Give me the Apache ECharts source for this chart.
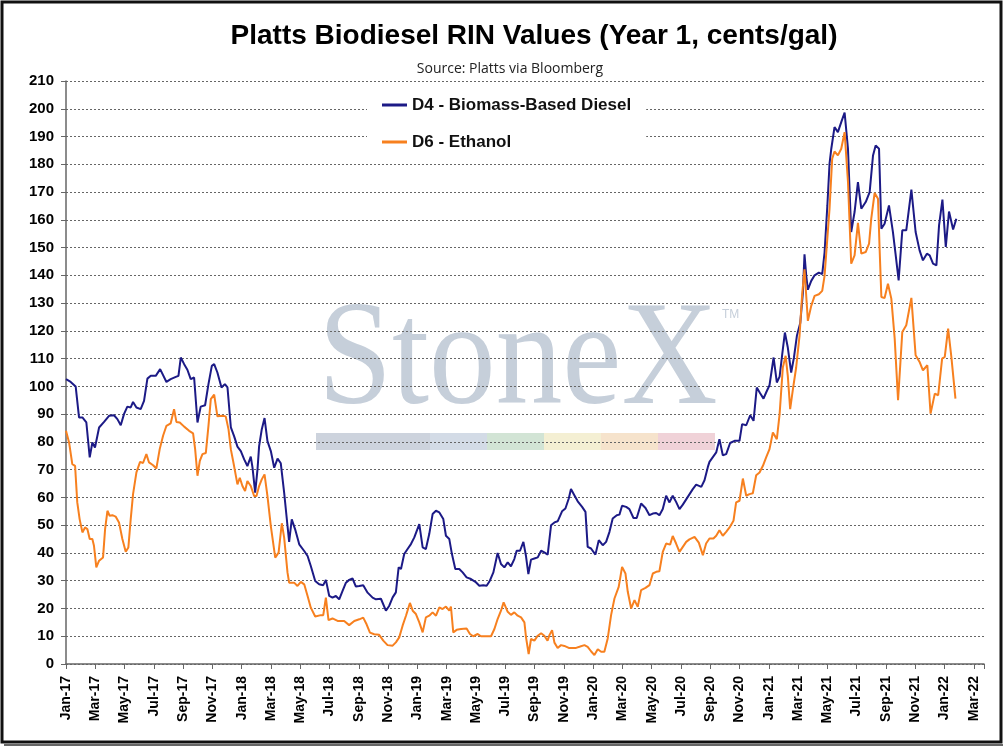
<!DOCTYPE html>
<html>
<head>
<meta charset="utf-8">
<title>Platts Biodiesel RIN Values</title>
<script src="https://cdn.jsdelivr.net/npm/echarts@6/dist/echarts.min.js"></script>
<style>
html, body { margin: 0; padding: 0; background: #fff; }
#chart { width: 1005px; height: 748px; }
</style>
</head>
<body>
<div id="chart"></div>
<script>
// x = months since Jan-2017 (fractional), y = cents/gal
const monthTicks = [
    'Jan-17', 'Mar-17', 'May-17', 'Jul-17', 'Sep-17', 'Nov-17',
    'Jan-18', 'Mar-18', 'May-18', 'Jul-18', 'Sep-18', 'Nov-18',
    'Jan-19', 'Mar-19', 'May-19', 'Jul-19', 'Sep-19', 'Nov-19',
    'Jan-20', 'Mar-20', 'May-20', 'Jul-20', 'Sep-20', 'Nov-20',
    'Jan-21', 'Mar-21', 'May-21', 'Jul-21', 'Sep-21', 'Nov-21',
    'Jan-22', 'Mar-22'
]

const seriesNames = ['D4 - Biomass-Based Diesel', 'D6 - Ethanol']

const d4Points = [
    [0.00, 102.6], [0.32, 101.6], [0.66, 100.0], [0.89, 88.8], [1.12, 88.8], [1.39, 87.0], [1.62, 74.4], [1.80, 79.8],
    [1.98, 78.0], [2.26, 85.2], [2.60, 87.2], [2.94, 89.4], [3.28, 89.6], [3.51, 88.2], [3.74, 86.0], [3.96, 90.0],
    [4.19, 92.7], [4.42, 92.4], [4.58, 94.4], [4.81, 92.4], [5.10, 91.8], [5.33, 94.8], [5.56, 102.8], [5.79, 103.8],
    [6.13, 103.8], [6.43, 106.2], [6.86, 101.6], [7.15, 102.6], [7.50, 103.4], [7.68, 103.8], [7.84, 110.4], [8.07, 108.0],
    [8.29, 106.0], [8.52, 102.6], [8.75, 103.2], [8.98, 87.0], [9.20, 92.7], [9.50, 93.2], [9.73, 100.8], [9.96, 107.4],
    [10.12, 108.0], [10.34, 105.0], [10.62, 99.6], [10.85, 100.8], [11.03, 99.6],
    [11.26, 85.2], [11.48, 82.1], [11.71, 78.3], [11.94, 76.7], [12.17, 73.7], [12.39, 71.3], [12.62, 74.7], [12.74, 70.7],
    [12.92, 61.7], [13.08, 70.1], [13.19, 78.5], [13.37, 84.5], [13.56, 88.6], [13.76, 80.3], [13.99, 76.7], [14.22, 70.7],
    [14.45, 74.0], [14.67, 72.3], [14.90, 61.7], [15.13, 49.7], [15.24, 44.0], [15.42, 52.1], [15.65, 48.5], [15.93, 43.1],
    [16.27, 40.7], [16.50, 38.9], [16.72, 35.3], [17.02, 29.9], [17.29, 28.7], [17.57, 28.4], [17.75, 30.3], [17.98, 24.5],
    [18.20, 23.9], [18.43, 24.5], [18.66, 23.3], [18.89, 26.3], [19.12, 29.3], [19.34, 30.3], [19.57, 30.8], [19.80, 27.9],
    [20.03, 28.1], [20.30, 28.4], [20.60, 25.7], [20.94, 23.9], [21.17, 23.3], [21.51, 23.5],
    [21.85, 19.2], [22.08, 21.0], [22.31, 24.0], [22.53, 25.8], [22.72, 34.8], [22.88, 34.2], [23.10, 39.6], [23.33, 41.4],
    [23.56, 43.2], [23.79, 45.6], [24.13, 50.4], [24.36, 42.0], [24.58, 41.4], [24.81, 46.8], [25.04, 54.0], [25.27, 55.2],
    [25.50, 54.6], [25.77, 52.2], [25.95, 46.2], [26.18, 45.0], [26.36, 39.6], [26.59, 34.2], [26.86, 34.2], [27.09, 33.0],
    [27.36, 31.2], [27.66, 30.6], [27.96, 29.6], [28.23, 28.2], [28.50, 28.4], [28.73, 28.2], [28.95, 30.0], [29.19, 33.0],
    [29.48, 40.0], [29.71, 36.0], [29.94, 34.8], [30.17, 36.6], [30.39, 35.2], [30.62, 37.8], [30.78, 40.8], [31.01, 40.8],
    [31.24, 44.0], [31.42, 38.8], [31.58, 32.4], [31.76, 37.6], [31.99, 38.0], [32.22, 38.4], [32.45, 40.8], [32.67, 40.2],
    [32.90, 39.4],
    [33.13, 50.0], [33.36, 51.0], [33.58, 51.4], [33.88, 55.0], [34.11, 56.0], [34.34, 59.6], [34.49, 63.0], [34.72, 60.8],
    [34.95, 58.6], [35.25, 56.6], [35.48, 54.8], [35.63, 42.2], [35.86, 41.6], [36.16, 39.4], [36.39, 44.6], [36.66, 42.8],
    [36.89, 44.0], [37.12, 47.6], [37.34, 52.4], [37.62, 53.6], [37.80, 53.8], [37.98, 57.0], [38.26, 56.6], [38.48, 55.8],
    [38.76, 52.6], [38.98, 52.6], [39.28, 57.8], [39.58, 56.2], [39.85, 53.6], [40.08, 54.2], [40.31, 54.4], [40.53, 53.6],
    [40.76, 55.8], [40.99, 60.6], [41.22, 58.2], [41.44, 60.6], [41.67, 58.4], [41.90, 55.8], [42.13, 57.4], [42.47, 60.2],
    [42.81, 63.0], [43.04, 64.6], [43.39, 63.8], [43.61, 66.2], [43.84, 71.0], [43.95, 72.8],
    [44.07, 72.6], [44.41, 76.2], [44.63, 81.0], [44.86, 75.2], [45.09, 75.6], [45.36, 79.6], [45.66, 80.4], [46.00, 80.4],
    [46.18, 86.4], [46.46, 86.0], [46.73, 89.6], [46.96, 87.6], [47.18, 99.6], [47.41, 97.5], [47.64, 95.6], [47.82, 97.8],
    [48.05, 100.4], [48.33, 110.4], [48.55, 101.4], [48.74, 103.5], [48.92, 111.6], [49.10, 119.4], [49.30, 114.0], [49.53, 105.0],
    [49.72, 110.4], [49.92, 118.2], [50.15, 122.8], [50.33, 133.8], [50.44, 147.6], [50.56, 139.8], [50.67, 134.8], [50.90, 138.0],
    [51.13, 140.0], [51.42, 141.0], [51.65, 140.4], [51.81, 148.2], [52.00, 165.0],
    [52.15, 180.2], [52.27, 185.6], [52.49, 193.4], [52.72, 191.6], [52.95, 195.2], [53.18, 198.6], [53.41, 185.6], [53.63, 155.6],
    [53.86, 162.8], [54.09, 173.6], [54.32, 164.0], [54.62, 166.4], [54.89, 170.0], [55.12, 183.2], [55.30, 186.8], [55.53, 185.6],
    [55.69, 156.8], [55.91, 158.6], [56.21, 165.2], [56.48, 155.6], [56.67, 147.2], [56.87, 138.2], [57.12, 156.2], [57.39, 156.2],
    [57.74, 170.9], [58.03, 155.6], [58.30, 149.0], [58.53, 145.4], [58.80, 147.8], [58.99, 147.2], [59.22, 144.2], [59.45, 143.6],
    [59.63, 158.0], [59.86, 167.3], [60.09, 150.2], [60.31, 163.0], [60.59, 156.5], [60.81, 160.4]
]

const d6Points = [
    [0.00, 84.0], [0.21, 79.8], [0.43, 72.0], [0.62, 71.4], [0.77, 58.2], [0.93, 52.2], [1.12, 47.4], [1.30, 49.2],
    [1.46, 48.6], [1.62, 45.0], [1.80, 45.0], [1.91, 42.6], [2.07, 34.8], [2.26, 37.2], [2.53, 38.4], [2.67, 48.6],
    [2.83, 55.2], [2.98, 53.4], [3.17, 53.6], [3.39, 53.1], [3.62, 51.0], [3.85, 45.0], [4.08, 40.4], [4.26, 42.0],
    [4.42, 52.2], [4.58, 61.2], [4.81, 69.0], [5.06, 72.8], [5.26, 72.4], [5.49, 75.6], [5.67, 72.6], [5.95, 71.6],
    [6.17, 70.4], [6.40, 77.4], [6.63, 82.2], [6.86, 85.8], [7.15, 86.7], [7.38, 91.8], [7.54, 87.2], [7.77, 87.0],
    [8.07, 85.5], [8.41, 84.0], [8.68, 83.1], [8.82, 77.4], [8.98, 67.8], [9.14, 73.2], [9.32, 75.6], [9.55, 76.0],
    [9.73, 85.8], [9.89, 95.4], [10.12, 97.0], [10.34, 89.2], [10.69, 89.4], [10.91, 89.2],
    [11.10, 84.5], [11.26, 77.3], [11.48, 71.3], [11.71, 64.7], [11.87, 67.1], [12.05, 64.1], [12.23, 62.3], [12.39, 65.9],
    [12.62, 64.1], [12.85, 60.5], [13.01, 60.5], [13.19, 64.1], [13.37, 66.5], [13.56, 68.3], [13.76, 60.5], [13.99, 49.7],
    [14.29, 38.3], [14.52, 40.1], [14.74, 50.7], [14.90, 45.5], [15.13, 32.9], [15.24, 29.3], [15.58, 29.3], [15.81, 28.1],
    [16.04, 29.6], [16.27, 28.7], [16.50, 24.5], [16.72, 20.3], [17.02, 17.1], [17.41, 17.6], [17.57, 17.6], [17.75, 23.9],
    [17.93, 15.8], [18.20, 16.4], [18.55, 15.5], [19.00, 15.5], [19.34, 14.0], [19.69, 15.5], [20.03, 16.1], [20.30, 16.7],
    [20.53, 14.3], [20.76, 11.3], [21.05, 10.7], [21.39, 10.5],
    [21.67, 8.4], [21.96, 6.8], [22.31, 6.6], [22.53, 7.8], [22.76, 9.6], [22.99, 13.8], [23.22, 17.4], [23.49, 22.0],
    [23.68, 19.2], [23.90, 18.0], [24.13, 15.0], [24.36, 11.4], [24.58, 16.8], [24.81, 17.4], [25.04, 18.6], [25.27, 17.4],
    [25.50, 20.4], [25.72, 19.8], [25.95, 20.7], [26.18, 19.2], [26.29, 20.7], [26.45, 11.4], [26.68, 12.3], [26.98, 12.6],
    [27.36, 12.8], [27.59, 10.8], [27.82, 10.0], [28.12, 10.8], [28.34, 10.0], [28.68, 10.0], [29.03, 10.0], [29.26, 12.6],
    [29.48, 16.2], [29.71, 19.2], [29.89, 22.2], [30.17, 18.8], [30.39, 17.7], [30.62, 18.6], [30.85, 17.4], [31.08, 16.8],
    [31.31, 15.0], [31.42, 9.6], [31.60, 3.6], [31.76, 9.0], [31.99, 8.4], [32.22, 10.2], [32.45, 11.1], [32.67, 10.2],
    [32.89, 8.4],
    [33.02, 10.4], [33.20, 12.2], [33.36, 7.7], [33.58, 5.8], [33.81, 6.8], [34.04, 6.5], [34.34, 5.8], [34.61, 5.8],
    [34.84, 5.8], [35.07, 6.2], [35.41, 6.8], [35.63, 6.2], [35.86, 4.6], [36.09, 3.2], [36.32, 5.3], [36.55, 4.4],
    [36.77, 4.4], [37.00, 9.2], [37.23, 17.6], [37.46, 23.6], [37.75, 27.8], [37.98, 35.0], [38.21, 32.6], [38.37, 26.0],
    [38.60, 20.0], [38.83, 23.0], [39.05, 20.6], [39.28, 26.6], [39.58, 27.4], [39.85, 28.4], [40.08, 32.6], [40.31, 33.2],
    [40.53, 33.4], [40.76, 40.4], [40.99, 43.4], [41.26, 43.0], [41.44, 46.1], [41.67, 43.4], [41.90, 40.4], [42.13, 42.2],
    [42.36, 44.0], [42.58, 44.9], [42.93, 45.8], [43.22, 43.7], [43.50, 39.2], [43.72, 43.4], [43.95, 45.2],
    [44.22, 45.2], [44.41, 46.2], [44.63, 48.2], [44.86, 46.2], [45.09, 47.6], [45.36, 49.5], [45.59, 51.6], [45.77, 58.2],
    [46.00, 58.8], [46.23, 66.8], [46.46, 60.6], [46.68, 61.2], [46.91, 61.5], [47.14, 68.0], [47.37, 69.0], [47.60, 71.4],
    [47.82, 74.4], [48.05, 77.4], [48.28, 83.4], [48.55, 81.0], [48.74, 90.0], [48.96, 106.8], [49.15, 111.0], [49.30, 103.8],
    [49.46, 91.8], [49.65, 99.0], [49.87, 106.8], [50.10, 118.2], [50.28, 133.2], [50.44, 142.2], [50.67, 123.6], [50.90, 129.0],
    [51.13, 132.6], [51.42, 133.2], [51.65, 134.4], [51.81, 139.8],
    [52.15, 164.0], [52.33, 182.0], [52.49, 184.6], [52.72, 183.2], [52.95, 185.6], [53.18, 191.6], [53.41, 173.6], [53.63, 144.2],
    [53.86, 147.2], [54.09, 158.9], [54.32, 147.8], [54.62, 148.4], [54.85, 151.4], [55.00, 160.4], [55.23, 169.7], [55.46, 167.6],
    [55.57, 149.6], [55.69, 132.2], [55.91, 131.8], [56.14, 137.0], [56.37, 131.6], [56.60, 117.2], [56.83, 95.0], [57.12, 119.6],
    [57.39, 122.0], [57.74, 131.9], [58.03, 111.2], [58.30, 108.8], [58.53, 105.8], [58.83, 107.6], [59.05, 90.2], [59.34, 97.4],
    [59.57, 96.8], [59.84, 110.0], [60.02, 110.6], [60.25, 120.8], [60.47, 110.6], [60.75, 95.6]
]

const colors = ['#1c1a86', '#f7801f']
const labelFont = 'Liberation Sans, Arial, sans-serif'

const chart = echarts.init(document.getElementById('chart'))

// faint StoneX watermark band
const bandColors = ['#cdd3dd', '#cdd3dd', '#d3dbe6', '#d2e4d5', '#f4efd3', '#f6e3cc', '#f0d2d8']
const bandGraphics = bandColors.map((c, i) => ({
    type: 'rect',
    z: -10,
    shape: { x: 316 + i * 57, y: 433, width: 57, height: 17 },
    style: { fill: c }
}))

chart.setOption({
    backgroundColor: '#fff',
    animation: false,
    title: [
        {
            text: 'Platts Biodiesel RIN Values (Year 1, cents/gal)',
            left: 529,
            top: 17,
            textAlign: 'center',
            textStyle: { fontFamily: labelFont, fontSize: 28, fontWeight: 'bold', color: '#000' }
        },
        {
            text: 'Source: Platts via Bloomberg',
            left: 505,
            top: 57,
            textAlign: 'center',
            textStyle: { fontFamily: 'Open Sans, sans-serif', fontSize: 14, fontWeight: 'normal', color: '#222' }
        }
    ],
    legend: {
        data: seriesNames,
        orient: 'vertical',
        left: 367,
        top: 88,
        padding: [8, 15, 8, 15],
        itemGap: 19,
        itemWidth: 25,
        itemHeight: 3,
        icon: 'rect',
        backgroundColor: '#fff',
        textStyle: { fontFamily: labelFont, fontSize: 17, lineHeight: 18, fontWeight: 'bold', color: '#111' }
    },
    graphic: [
        ...bandGraphics,
        {
            type: 'text',
            z: -10,
            x: 318,
            y: 290,
            scaleX: 0.9,
            style: { text: 'StoneX', font: '148px "Liberation Serif", serif', fill: '#c6cfda', align: 'left', verticalAlign: 'top' }
        },
        {
            type: 'text',
            z: -10,
            x: 722,
            y: 309,
            style: { text: 'TM', font: '12px "Liberation Sans", sans-serif', fill: '#c6cfda', align: 'left', verticalAlign: 'top' }
        },
        {
            type: 'rect',
            z: 100,
            shape: { x: 2, y: 2, width: 999, height: 740 },
            style: { fill: 'none', stroke: '#111', lineWidth: 3 }
        },
        {
            type: 'rect',
            z: 100,
            shape: { x: 4, y: 744, width: 999, height: 2 },
            style: { fill: '#666' }
        }
    ],
    grid: { left: 66, right: 21, top: 81, bottom: 84 },
    xAxis: {
        type: 'value',
        min: 0,
        max: 62.7,
        interval: 2,
        axisLine: { show: true, lineStyle: { color: '#666', width: 1.5 } },
        axisTick: { show: true, length: 5, lineStyle: { color: '#666' } },
        splitLine: { show: false },
        axisLabel: {
            rotate: 90,
            margin: 12,
            fontFamily: labelFont,
            fontSize: 14,
            fontWeight: 'bold',
            color: '#000',
            formatter: v => (Number.isInteger(v / 2) && monthTicks[v / 2]) ? monthTicks[v / 2] : ''
        }
    },
    yAxis: {
        type: 'value',
        min: 0,
        max: 210,
        interval: 10,
        axisLine: { show: true, lineStyle: { color: '#666', width: 1.5 } },
        axisTick: { show: true, length: 5, lineStyle: { color: '#666' } },
        splitLine: { show: true, lineStyle: { color: '#666', type: [2, 2], width: 1 } },
        axisLabel: {
            margin: 12,
            fontFamily: labelFont,
            fontSize: 15,
            fontWeight: 'bold',
            color: '#000'
        }
    },
    series: [
        {
            name: seriesNames[0],
            type: 'line',
            data: d4Points,
            showSymbol: false,
            lineStyle: { color: colors[0], width: 2 },
            itemStyle: { color: colors[0] }
        },
        {
            name: seriesNames[1],
            type: 'line',
            data: d6Points,
            showSymbol: false,
            lineStyle: { color: colors[1], width: 2 },
            itemStyle: { color: colors[1] }
        }
    ]
})
</script>
</body>
</html>
